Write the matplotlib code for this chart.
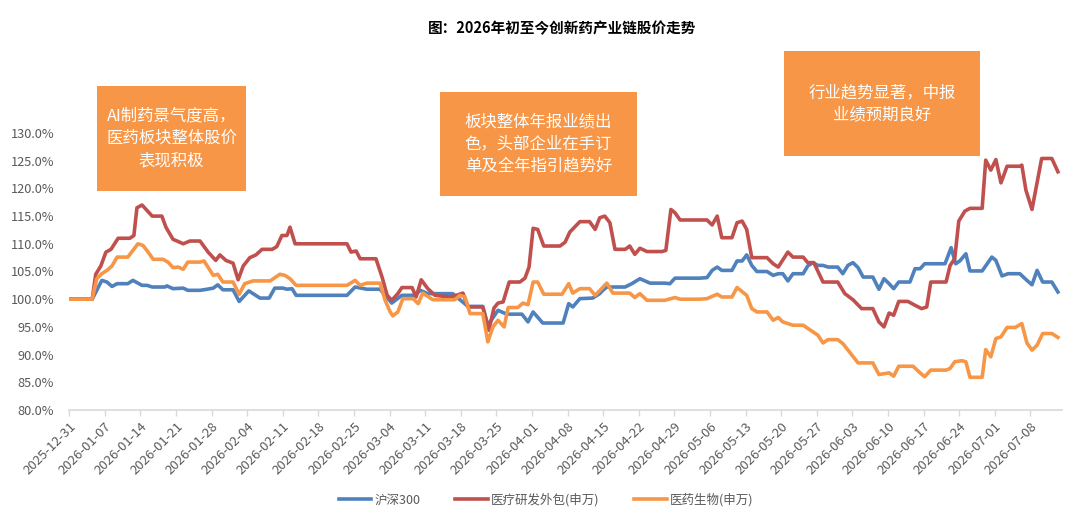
import pandas as pd
import matplotlib
matplotlib.use('Agg')
import matplotlib.pyplot as plt
import matplotlib.dates as mdates
from matplotlib.patches import Rectangle

# 横轴: 距 2025-12-31 的天数, 纵轴: 相对起点的净值(%)
start = pd.Timestamp('2025-12-31')

hs300_day = [0, 4.5, 6.4, 7.4, 8.4, 9.4, 11.5, 12.5, 14.3, 15.3, 16.3, 18.8, 19.2, 20.4, 22.4, 23.3, 25.7,
             27.1, 28.3, 29.2, 30.2, 32.2, 33.4, 35.3, 37.5, 39.3, 40.4, 42, 42.8, 43.8, 44.6, 54.6, 56.2,
             58.5, 61.1, 63.4, 65.4, 68, 69, 70.5, 75.4, 78.4, 81.3, 82.3, 84.3, 86, 89, 90.2, 91.2, 93.1,
             97.1, 98.2, 99, 100.4, 102.9, 104.3, 104.9, 105.7, 109.3, 110.6, 112.2, 114.2, 117.1, 118.1,
             119.1, 124, 125.4, 126.4, 127.4, 128.3, 130.3, 131.3, 132.3, 133.2, 134.2, 135.2, 137.2,
             138.4, 139.4, 140.3, 141.3, 142.3, 144.3, 145.2, 146.2, 147.2, 148.2, 149.2, 151.1, 152.1,
             153.1, 154.1, 155.1, 156.1, 158, 159.2, 160.2, 161.2, 162.1, 163.1, 165.3, 166.3, 167.3,
             168.2, 172.2, 173.4, 174.3, 175.1, 176.3, 177.1, 179.5, 181.4, 182.2, 183.4, 184.6, 186.9,
             188.3, 189.3, 190.3, 191.4, 193.2, 194.4]
hs300_val = [100, 100, 103.4, 103.1, 102.3, 102.8, 102.8, 103.4, 102.5, 102.5, 102.2, 102.2, 102.4, 101.9,
             102, 101.6, 101.6, 101.8, 102, 102.6, 101.7, 101.7, 99.6, 101.5, 100.2, 100.2, 102, 102, 101.8,
             101.9, 100.7, 100.7, 102.2, 101.8, 101.8, 99.3, 100.7, 100.7, 101.6, 101, 101, 98.7, 98.7,
             95.3, 98, 97.3, 97.3, 95.9, 97.7, 95.7, 95.7, 99.2, 98.6, 100.1, 100.2, 101, 101.6, 102.2,
             102.2, 102.8, 103.7, 102.9, 102.9, 102.8, 103.8, 103.8, 103.9, 105.2, 105.8, 105.2, 105.2,
             106.9, 106.9, 108, 106.1, 105, 105, 104.3, 104.6, 104.6, 103.3, 104.6, 104.6, 106, 106.6,
             106.1, 106.1, 105.8, 105.8, 104.6, 106.1, 106.6, 105.7, 104, 104, 101.8, 103.7, 102.8, 101.9,
             103.1, 103.1, 105.5, 105.5, 106.4, 106.4, 109.3, 106.4, 106.9, 108.2, 105.1, 105.1, 107.6,
             107, 104.2, 104.6, 104.6, 103.4, 102.6, 105.2, 103.1, 103.1, 101.3]

cro_day = [0, 4.5, 5.2, 6.2, 7.2, 8.2, 9.6, 11.9, 12.7, 13.3, 14.3, 16.3, 18.2, 19, 20.4, 21.2, 22.4, 23.7,
           25.7, 27.3, 28.8, 29.6, 30.8, 32.2, 33.2, 34.2, 35.5, 36.7, 37.9, 39.9, 40.8, 41.8, 42.8, 43.4,
           44.4, 54.6, 55.4, 56.4, 57.2, 60.3, 61.5, 62.5, 63.4, 64.6, 65.4, 67.4, 68.2, 69.2, 70.5, 71.9,
           74.8, 75.8, 77.4, 78.4, 81.3, 82.5, 83.5, 84.3, 85.3, 86.5, 88.6, 89.6, 90.4, 91.2, 92.1, 93.3,
           96.5, 97.5, 98.4, 100.4, 102.3, 103.4, 104.3, 105.3, 106.3, 107.3, 109.3, 110.2, 111.2, 112.2,
           113.6, 116.5, 117.3, 118.3, 119.1, 120.1, 125.4, 126.4, 127.4, 128.3, 130.3, 131.3, 132.3,
           133.2, 134.2, 137.2, 138.4, 139.4, 141.3, 142.3, 144.3, 145.2, 146.4, 148.2, 151.1, 152.5,
           154.1, 155.8, 158, 159.2, 160.2, 161.2, 162.1, 163.1, 164.9, 166.3, 167.6, 168.6, 169.4, 172.4,
           173.2, 174.1, 174.9, 176.1, 177.1, 179.5, 180.2, 181.2, 182.2, 183.2, 184.4, 186.9, 187.3,
           188.1, 189.3, 191.2, 193.2, 194.4]
cro_val = [100, 100, 104.5, 106, 108.5, 109, 111, 111, 111.5, 116.5, 117, 115, 115, 113, 110.8, 110.5, 110,
           110.5, 110.5, 108.5, 107, 108, 107, 106.5, 103.5, 106, 107.5, 108, 109, 109, 109.5, 111.5, 111.5,
           113, 110, 110, 108.5, 108.7, 107.3, 107.3, 104, 100.7, 99.8, 101, 102.1, 102.1, 100.4, 103.5,
           101.9, 100.7, 100.4, 100.6, 101.1, 98.6, 98.6, 94.4, 98.4, 99.3, 99.5, 103.1, 103.1, 103.8, 105.8,
           112.8, 112.6, 109.6, 109.6, 110.3, 112.1, 114, 114, 112.6, 114.7, 115, 113.8, 109, 109, 109.6,
           108.1, 109.2, 108.6, 108.6, 108.8, 116.2, 115.6, 114.3, 114.3, 113.4, 115, 111.1, 111.1, 113.8,
           114.1, 112.6, 107.5, 107.5, 106.4, 105.8, 108.5, 107.6, 107.6, 106.6, 106.6, 103.1, 103.1, 101,
           99.9, 98.3, 98.3, 95.9, 95, 97.5, 97.1, 99.6, 99.6, 98.9, 98.3, 98.6, 103.1, 103.1, 106.1, 107.3,
           114.1, 115.9, 116.4, 116.4, 125.1, 123.3, 125.2, 121, 124, 124, 124.2, 119.7, 116.2, 125.4,
           125.4, 123]

bio_day = [0, 4.5, 5.4, 6.4, 7.4, 8.4, 9.4, 11.5, 12.5, 13.5, 14.5, 15.5, 16.5, 18.4, 19.4, 20.4, 21.4,
           22.4, 23.3, 25.7, 26.5, 28.3, 29.2, 30.2, 32.2, 33.4, 34.5, 36.1, 39.5, 41.4, 42.4, 43.4, 44.6,
           54.6, 56.2, 57.2, 58.5, 61.1, 62.1, 63.1, 63.6, 64.6, 65.6, 67.6, 68.6, 69.5, 71.5, 75.8, 76.8,
           77.8, 78.8, 81.3, 82.3, 83.3, 84.3, 85.5, 86.3, 88.2, 89.2, 90.2, 91.2, 92.1, 93.3, 96.9, 98.2,
           99, 100.4, 102.3, 103.4, 105.7, 106.9, 110.2, 111.2, 112.2, 113.6, 117.1, 119.1, 120.1, 124,
           125.4, 127.4, 128.3, 130.3, 131.3, 133.2, 134.2, 135.2, 137.2, 138.4, 139.4, 140.3, 142.3,
           144.3, 147.2, 148.2, 149.2, 151.1, 152.1, 155.1, 158, 159.2, 161.2, 162.1, 163.1, 165.9, 167.3,
           168.2, 169.4, 172.4, 173.2, 174.1, 175.5, 176.3, 177.1, 179.5, 180.2, 181.2, 182.2, 183.2,
           184.4, 186, 187.3, 188.3, 189.3, 190.3, 191.4, 193.2, 194.4]
bio_val = [100, 100, 103.7, 104.6, 105.2, 106, 107.6, 107.6, 108.8, 110, 109.7, 108.5, 107.2, 107.2, 106.7,
           105.7, 105.8, 105.4, 106.7, 106.7, 106.9, 104.3, 104.5, 103.1, 103.1, 100.9, 102.8, 103.3, 103.3,
           104.5, 104.3, 103.7, 102.5, 102.5, 103.4, 102.5, 102.9, 102.9, 99.8, 97.7, 97, 97.7, 100.1,
           100.1, 99.2, 101.1, 99.9, 99.9, 100.7, 100.4, 97.4, 97.4, 92.3, 95, 96.2, 95, 98.5, 98.5, 99.3,
           99, 103.1, 103.1, 100.9, 100.9, 102.8, 101.1, 101.9, 101.9, 100.7, 102.9, 101.1, 101.1, 100.3,
           101, 99.8, 99.8, 100.3, 100, 100, 100.1, 100.9, 100.4, 100.4, 102.1, 100.7, 98.3, 97.7, 97.7,
           96.2, 96.7, 95.9, 95.3, 95.3, 93.5, 92.1, 92.7, 92.7, 92, 88.5, 88.5, 86.4, 86.7, 86.1, 87.9,
           87.9, 86.7, 86, 87.2, 87.2, 87.5, 88.7, 88.9, 88.7, 85.9, 85.9, 90.9, 89.6, 92.9, 93.2, 94.9,
           94.9, 95.6, 92.1, 90.8, 91.7, 93.8, 93.8, 93.1]

series_names = ['沪深300', '医疗研发外包(申万)', '医药生物(申万)']
series_colors = ['#4F81BD', '#C0504D', '#F79646']

notes = ['AI制药景气度高，\n医药板块整体股价\n表现积极',
         '板块整体年报业绩出\n色，头部企业在手订\n单及全年指引趋势好',
         '行业趋势显著，中报\n业绩预期良好']
# 注释框位置(像素): 左, 上, 右, 下
note_boxes = [(97, 86, 246, 191), (440, 92, 637, 196), (784, 51, 980, 156)]

plt.rcParams['font.family'] = ['Noto Sans CJK SC', 'DejaVu Sans']
plt.rcParams['axes.unicode_minus'] = False

W, H = 1080, 524
fig = plt.figure(figsize=(W / 100, H / 100), dpi=100)
ax = fig.add_axes([69.3 / W, (H - 410) / H, (1062 - 69.3) / W, (410 - 133) / H])

for days, vals, name, color in zip([hs300_day, cro_day, bio_day], [hs300_val, cro_val, bio_val],
                                   series_names, series_colors):
    x = start + pd.to_timedelta(days, unit='D')
    ax.plot(x, vals, color=color, lw=2.6, label=name, solid_joinstyle='round')

ax.set_ylim(80, 130)
ax.set_yticks(range(80, 131, 5))
ax.yaxis.set_major_formatter(matplotlib.ticker.FuncFormatter(lambda v, p: '%.1f%%' % v))
ax.set_xlim(start, start + pd.Timedelta(days=195.2))
ticks = pd.date_range('2025-12-31', '2026-07-08', freq='7D')
ax.set_xticks(ticks)
ax.xaxis.set_major_formatter(mdates.DateFormatter('%Y-%m-%d'))
ax.xaxis.set_minor_locator(matplotlib.ticker.NullLocator())
plt.setp(ax.get_xticklabels(), rotation=45, ha='right', rotation_mode='anchor')

for s in ['top', 'right', 'left']:
    ax.spines[s].set_visible(False)
ax.spines['bottom'].set_color('#D9D9D9')
ax.spines['bottom'].set_linewidth(1.2)
ax.tick_params(axis='y', length=0, pad=11, labelsize=9.2, labelcolor='#595959')
ax.tick_params(axis='x', length=4, width=1, color='#D9D9D9', pad=3, labelsize=9.5, labelcolor='#595959')

fig.text(562 / W, 1 - 28 / H, '图：2026年初至今创新药产业链股价走势', ha='center', va='center',
         fontsize=10.5, fontweight='bold', color='#000000')

for (l, t, r, b), txt in zip(note_boxes, notes):
    fig.patches.append(Rectangle((l / W, 1 - b / H), (r - l) / W, (b - t) / H, transform=fig.transFigure,
                                 facecolor='#F79646', edgecolor='none', zorder=5))
    fig.text((l + r) / 2 / W, 1 - (t + b) / 2 / H, txt, ha='center', va='center', color='white',
             fontsize=11.8, linespacing=1.4, zorder=6)

fig.legend(loc='center', bbox_to_anchor=(546 / W, 1 - 500 / H), ncol=3, frameon=False, fontsize=9,
           handlelength=2.6, columnspacing=2.8, handletextpad=0.25, labelcolor='#595959')

fig.savefig('out.png', dpi=100)
